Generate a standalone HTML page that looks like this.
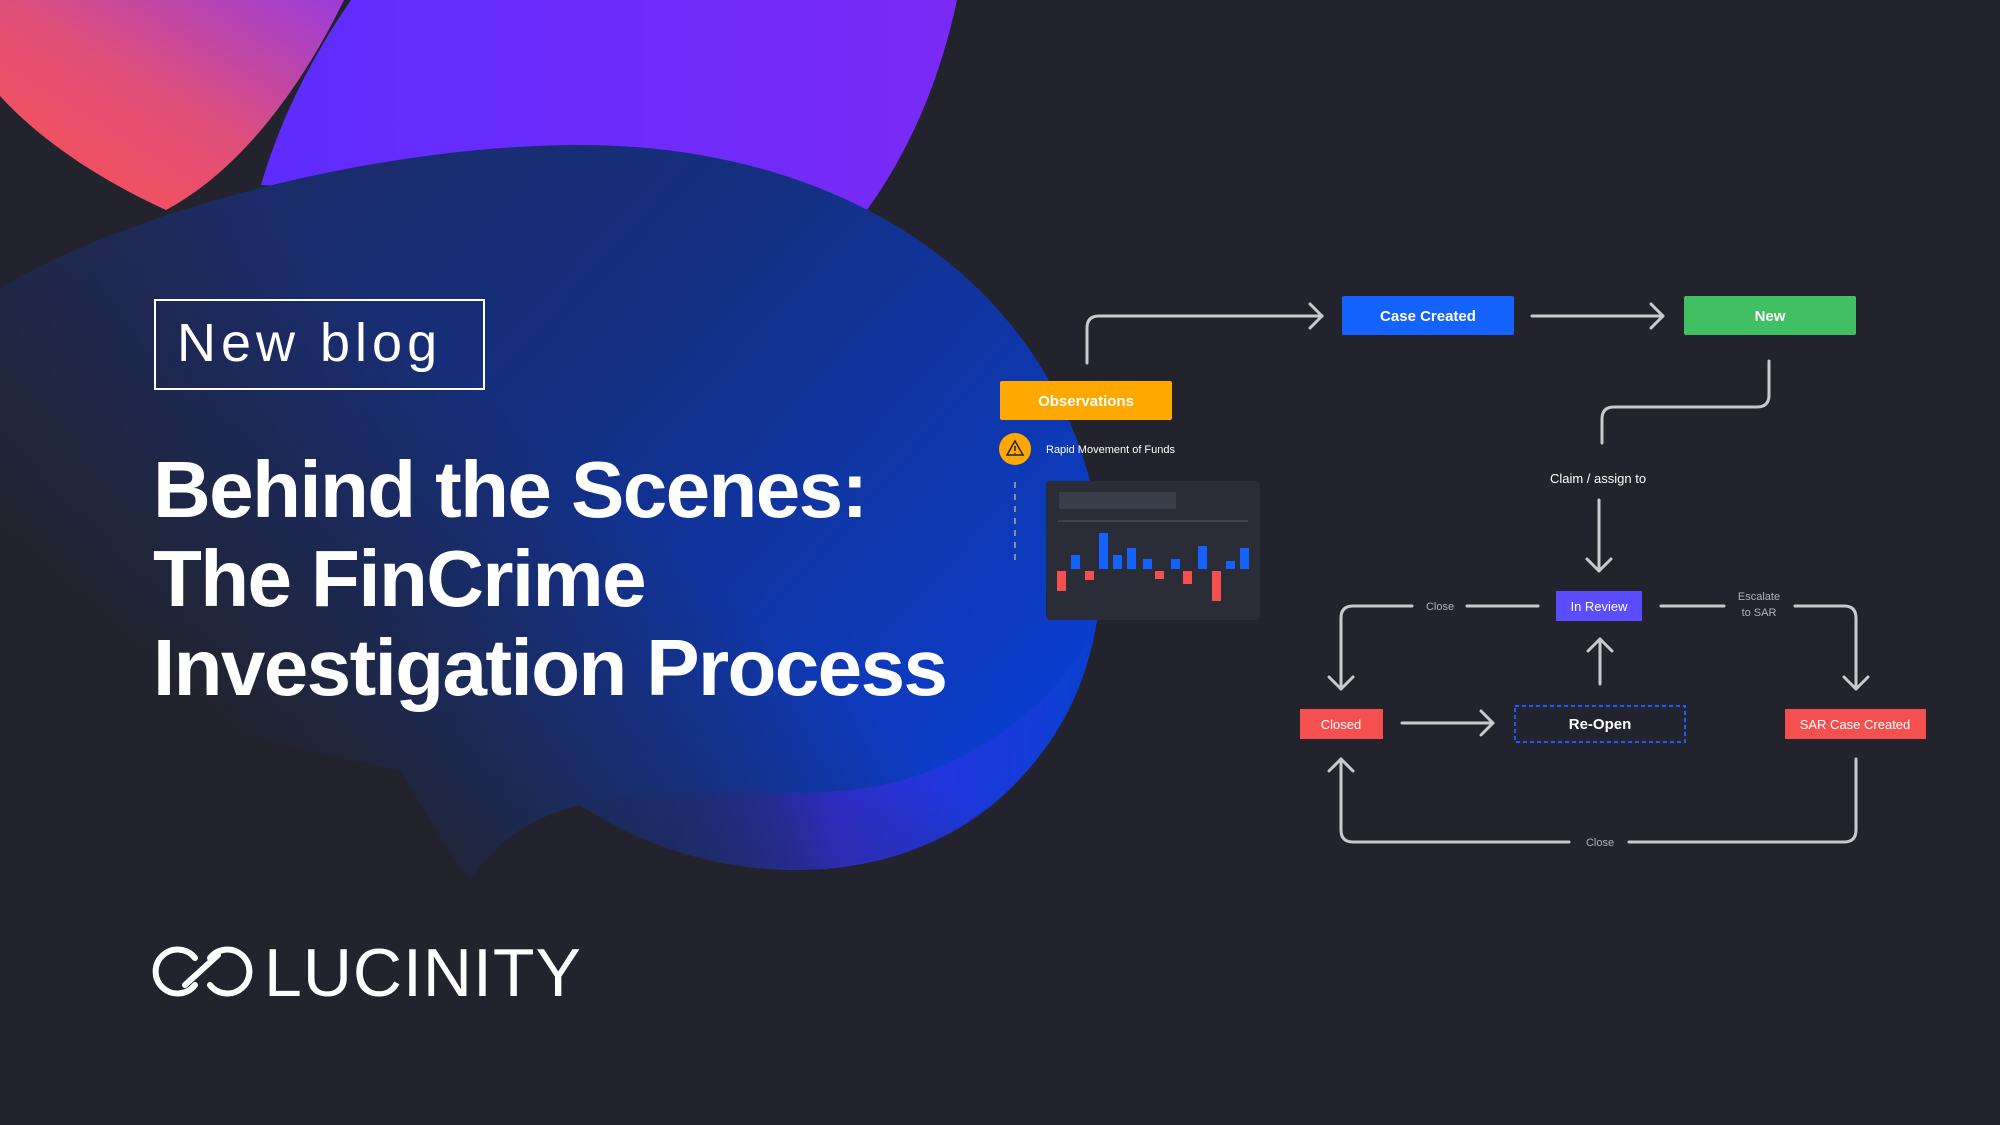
<!DOCTYPE html>
<html><head><meta charset="utf-8"><style>
html,body{margin:0;padding:0;background:#22232c;}
body{width:2000px;height:1125px;overflow:hidden;position:relative;font-family:"Liberation Sans",sans-serif;}
svg{position:absolute;left:0;top:0}
.t{position:absolute;color:#fff;white-space:nowrap}
</style></head><body>
<svg width="2000" height="1125" viewBox="0 0 2000 1125">
<defs>
<linearGradient id="gr" x1="0" y1="1" x2="1" y2="0"><stop offset="0" stop-color="#ff5050"/><stop offset="0.5" stop-color="#e04f78"/><stop offset="1" stop-color="#9a3cdc"/></linearGradient>
<linearGradient id="gp" x1="0" y1="0" x2="1" y2="0"><stop offset="0" stop-color="#5e2cff"/><stop offset="1" stop-color="#7a2af5"/></linearGradient>
<linearGradient id="gb" x1="0" y1="0.2" x2="1" y2="0.8"><stop offset="0" stop-color="#1e2a60"/><stop offset="0.45" stop-color="#142f80"/><stop offset="1" stop-color="#0a3fd6"/></linearGradient>
<linearGradient id="gf" gradientUnits="userSpaceOnUse" x1="520" y1="420" x2="150" y2="860"><stop offset="0" stop-color="#22232c" stop-opacity="0"/><stop offset="0.75" stop-color="#22232c" stop-opacity="1"/></linearGradient>
<linearGradient id="gbb" x1="0" y1="0" x2="1" y2="0"><stop offset="0" stop-color="#22232c" stop-opacity="0"/><stop offset="0.5" stop-color="#3a2cf0"/><stop offset="1" stop-color="#0a40d0"/></linearGradient>
</defs>
<path d="M0 0 L344 0 C300 90 240 170 166 210 C100 180 40 140 0 96 Z" fill="url(#gr)"/>
<path d="M351 0 L957 0 C940 80 910 150 867 210 L261 185 C280 120 310 60 351 0 Z" fill="url(#gp)"/>
<path d="M-20 300 C120 210 380 145 580 145 C820 145 1040 260 1095 500 C1130 700 1010 860 800 870 C690 870 620 830 580 805 C520 820 490 850 470 880 C440 840 420 800 400 770 C250 740 80 690 -20 640 Z" fill="url(#gb)"/>
<path d="M580 805 C650 780 760 800 850 790 C950 780 1040 720 1090 640 C1060 780 950 868 800 870 C690 870 620 830 580 805 Z" fill="url(#gbb)" opacity="0.8"/>
<path d="M-20 300 C120 210 380 145 580 145 C820 145 1040 260 1095 500 C1130 700 1010 860 800 870 C690 870 620 830 580 805 C520 820 490 850 470 880 C440 840 420 800 400 770 C250 740 80 690 -20 640 Z" fill="url(#gf)"/>
<rect x="155" y="300" width="329" height="89" fill="none" stroke="#fff" stroke-width="2"/>
<!-- logo -->
<g fill="none" stroke="#fff" stroke-width="6" stroke-linecap="round">
<path d="M195 958 A 22 22 0 1 0 195 985"/>
<path d="M210 958 A 22 22 0 1 1 210 985"/>
<path d="M185 985 L218 955"/>
</g>
<!-- diagram -->
<g fill="none" stroke="#c9c9ce" stroke-width="3" stroke-linecap="round" stroke-linejoin="round">
<path d="M1087 363 V328 Q1087 316 1099 316 H1322"/><path d="M1310 304 L1322 316 L1310 328"/>
<path d="M1532 316 H1663"/><path d="M1651 304 L1663 316 L1651 328"/>
<path d="M1769 361 V395 Q1769 407 1757 407 H1614 Q1602 407 1602 419 V443"/>
<path d="M1599 500 V571"/><path d="M1587 559 L1599 571 L1611 559"/>
<path d="M1538 606 H1467"/><path d="M1412 606 H1353 Q1341 606 1341 618 V689"/><path d="M1329 677 L1341 689 L1353 677"/>
<path d="M1661 606 H1724"/><path d="M1795 606 H1844 Q1856 606 1856 618 V689"/><path d="M1844 677 L1856 689 L1868 677"/>
<path d="M1600 684 V639"/><path d="M1588 651 L1600 639 L1612 651"/>
<path d="M1402 723 H1493"/><path d="M1481 711 L1493 723 L1481 735"/>
<path d="M1341 759 V830 Q1341 842 1353 842 H1569"/><path d="M1329 771 L1341 759 L1353 771"/>
<path d="M1629 842 H1844 Q1856 842 1856 830 V759"/>
</g>
<rect x="1342" y="296" width="172" height="39" rx="2" fill="#1463ff"/>
<rect x="1684" y="296" width="172" height="39" rx="2" fill="#41bf63"/>
<rect x="1000" y="381" width="172" height="39" rx="2" fill="#ffa800"/>
<rect x="1556" y="591" width="86" height="30" fill="#5b4dff"/>
<rect x="1300" y="709" width="83" height="30" fill="#f45050"/>
<rect x="1785" y="709" width="141" height="30" fill="#f45050"/>
<rect x="1515" y="706" width="170" height="36" fill="none" stroke="#1a5cff" stroke-width="2" stroke-dasharray="4 3"/>
<circle cx="1015" cy="449" r="16" fill="#ffa800"/>
<path d="M1015 441 L1023 455 H1007 Z" fill="none" stroke="#222" stroke-width="1.5"/>
<path d="M1015 446 V451 M1015 453 V454" stroke="#222" stroke-width="1.5"/>
<path d="M1015 482 V560" stroke="#8a8f9a" stroke-width="2" stroke-dasharray="6 6"/>
<rect x="1046" y="481" width="214" height="139" rx="4" fill="#2a2d38"/>
<rect x="1059" y="492" width="117" height="17" fill="#3a3e4a"/>
<path d="M1058 521 H1248" stroke="#3e424e" stroke-width="2"/>
<g fill="#1463ff">
<rect x="1071" y="555" width="9" height="14"/><rect x="1099" y="533" width="9" height="36"/><rect x="1113" y="555" width="9" height="14"/><rect x="1127" y="548" width="9" height="21"/><rect x="1143" y="559" width="9" height="10"/><rect x="1171" y="559" width="9" height="10"/><rect x="1198" y="546" width="9" height="23"/><rect x="1226" y="561" width="9" height="8"/><rect x="1240" y="548" width="9" height="21"/>
</g>
<g fill="#f45050">
<rect x="1057" y="571" width="9" height="20"/><rect x="1085" y="571" width="9" height="9"/><rect x="1155" y="571" width="9" height="8"/><rect x="1183" y="571" width="9" height="13"/><rect x="1212" y="571" width="9" height="30"/>
</g>
<g font-family="Liberation Sans,sans-serif" text-anchor="middle" fill="#fff">
<text x="1428" y="321" font-size="15" font-weight="bold">Case Created</text>
<text x="1770" y="321" font-size="15" font-weight="bold">New</text>
<text x="1086" y="406" font-size="15" font-weight="bold">Observations</text>
<text x="1599" y="611" font-size="13">In Review</text>
<text x="1341" y="729" font-size="13">Closed</text>
<text x="1855" y="729" font-size="13">SAR Case Created</text>
<text x="1600" y="729" font-size="15" font-weight="bold">Re-Open</text>
<text x="1598" y="483" font-size="13">Claim / assign to</text>
<g fill="#b0b2b8" font-size="11"><text x="1440" y="610">Close</text><text x="1759" y="600">Escalate</text><text x="1759" y="616">to SAR</text><text x="1600" y="846">Close</text></g>
<text x="1046" y="453" font-size="11" text-anchor="start">Rapid Movement of Funds</text>
</g>
</svg>
<div class="t" style="left:177px;top:310px;font-size:54px;letter-spacing:5px;font-weight:300;line-height:66px">New blog</div>
<div class="t" style="left:153px;top:445px;font-size:80px;font-weight:bold;letter-spacing:-1.6px;line-height:89px">Behind the Scenes:<br>The FinCrime<br>Investigation Process</div>
<div class="t" style="left:264px;top:939px;font-size:68px;line-height:68px;letter-spacing:1px">LUCINITY</div>
</body></html>
